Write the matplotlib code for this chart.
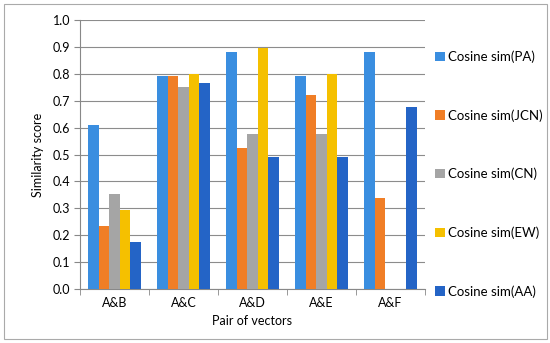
import matplotlib
matplotlib.use("Agg")
import matplotlib.pyplot as plt
import numpy as np

pairs = ["A&B", "A&C", "A&D", "A&E", "A&F"]
series = ["Cosine sim(PA)", "Cosine sim(JCN)", "Cosine sim(CN)", "Cosine sim(EW)", "Cosine sim(AA)"]
pa = [0.61, 0.79, 0.88, 0.79, 0.88]
jcn = [0.235, 0.79, 0.525, 0.72, 0.34]
cn = [0.355, 0.75, 0.575, 0.575, 0.0]
ew = [0.295, 0.80, 0.895, 0.80, 0.0]
aa = [0.175, 0.765, 0.49, 0.49, 0.675]
colors = ["#3a8ee0", "#f07e26", "#a5a5a5", "#f5c000", "#2464c6"]

plt.rcParams['font.family'] = ['Lato', 'DejaVu Sans']

fig = plt.figure(figsize=(5.5, 3.43), dpi=100)
ax = fig.add_axes([80 / 550, 1 - 289 / 343, 345 / 550, 269 / 343])

x = np.arange(len(pairs))
w = 0.153
for i, (vals, lab) in enumerate(zip([pa, jcn, cn, ew, aa], series)):
    ax.bar(x + (i - 2) * w, vals, w, color=colors[i], label=lab, zorder=3)

fs = 9
ax.set_xlim(-0.5, len(pairs) - 0.5)
ax.set_ylim(0, 1.0)
ax.set_yticks(np.arange(0, 1.01, 0.1))
ax.set_yticklabels(["%.1f" % v for v in np.arange(0, 1.01, 0.1)], fontsize=fs)
ax.set_xticks(x)
ax.set_xticklabels(pairs, fontsize=fs)
ax.set_xticks(np.arange(-0.5, len(pairs), 1), minor=True)
ax.tick_params(axis='x', which='major', length=0, pad=6)
ax.tick_params(axis='x', which='minor', length=4, color='#888888')
ax.tick_params(axis='y', length=4, color='#888888', pad=3)
ax.yaxis.grid(True, color='#8c8c8c', linewidth=0.8, zorder=0)
for s in ['top', 'right']:
    ax.spines[s].set_visible(False)
for s in ['left', 'bottom']:
    ax.spines[s].set_color('#888888')
ax.set_ylabel("Similarity score", fontsize=fs, labelpad=6)
ax.set_xlabel("Pair of vectors", fontsize=fs, labelpad=4)

fig.legend(loc='upper left', bbox_to_anchor=(430 / 550, 1 - 45 / 343), frameon=False,
           fontsize=fs + 0.5, labelspacing=3.5, handlelength=0.7, handleheight=0.7,
           handletextpad=0.3, borderaxespad=0)

fig.patches.append(plt.Rectangle((4 / 550, 4 / 343), 543 / 550, 335 / 343, transform=fig.transFigure,
                                 fill=False, edgecolor='#aaaaaa', linewidth=0.8))

plt.savefig("out.png", dpi=100)
